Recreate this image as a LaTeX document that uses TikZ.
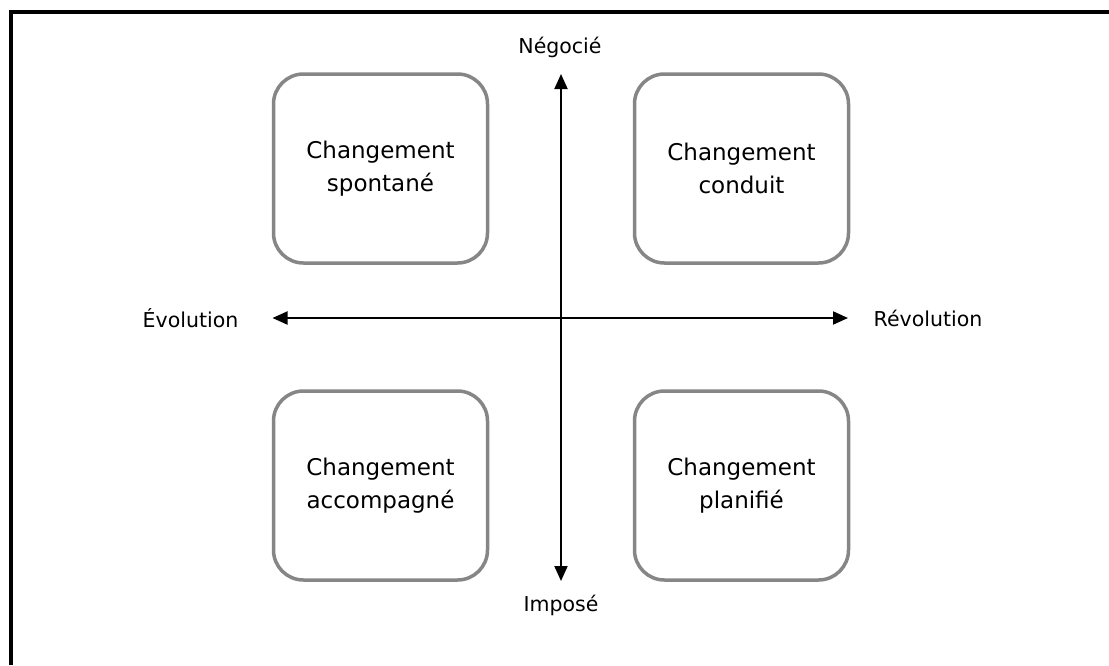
\documentclass[tikz,border=0pt]{standalone}
\usepackage{fontspec}
\setmainfont{DejaVu Sans}
\usepackage{tikz}
\usetikzlibrary{arrows.meta}

\begin{document}
\begin{tikzpicture}[x=1pt, y=-1pt]
    \tikzstyle{quadrant} = [rectangle, draw=gray!95, line width=3.5pt, rounded corners=30pt, minimum width=214pt, minimum height=189pt, align=center, inner sep=0pt, font=\fontsize{23}{33}\selectfont]
    \tikzstyle{axislabel} = [inner sep=0pt, font=\fontsize{20.5}{24}\selectfont]
    \tikzstyle{axis} = [line width=2pt, {Triangle[length=15pt, width=13pt]}-{Triangle[length=15pt, width=13pt]}]

    \useasboundingbox (0,0) rectangle (1109,665);

    % Frame
    \draw[line width=4pt] (1109,12) -- (10.5,12) -- (10.5,665);

    % Quadrants
    \node[quadrant] (spont) at (380.5,168.5) {Changement\\spontané};
    \node[quadrant] (cond) at (741.5,168.5) {Changement\\conduit};
    \node[quadrant] (accomp) at (380.5,485.5) {Changement\\accompagné};
    \node[quadrant] (plan) at (741.5,485.5) {Changement\\planifié};

    % Axes
    \coordinate (top) at (561,74);
    \coordinate (bottom) at (561,581);
    \coordinate (left) at (272.5,318);
    \coordinate (right) at (848,318);
    \draw[axis] (bottom) -- (top);
    \draw[axis] (left) -- (right);

    % Axis labels
    \node[axislabel] (nego) at (560,47) {Négocié};
    \node[axislabel] (impo) at (561,605) {Imposé};
    \node[axislabel] (evol) at (190.5,318) {Évolution};
    \node[axislabel] (revol) at (928,318) {Révolution};

\end{tikzpicture}
\end{document}
